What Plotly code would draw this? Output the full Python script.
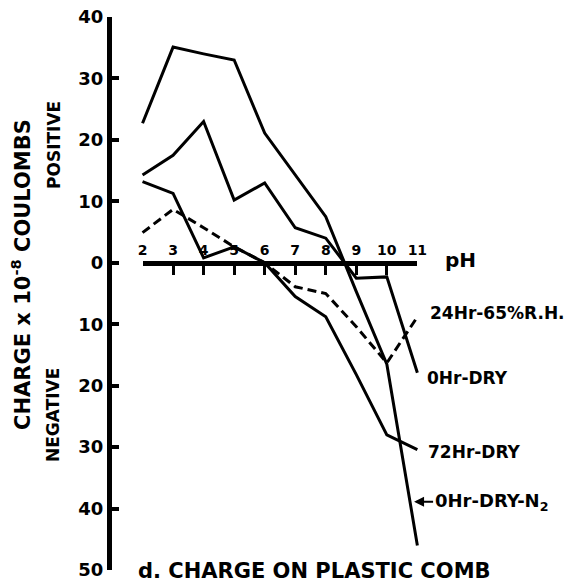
import plotly.graph_objects as go

# ---------------- data ----------------
ph = [2, 3, 4, 5, 6, 7, 8, 9, 10, 11]
hr0_dry_n2 = [22.7, 35.1, 34.0, 33.0, 21.1, 14.3, 7.5, -4.7, -16.5, -46.0]
hr0_dry = [14.3, 17.5, 23.0, 10.2, 13.0, 5.7, 4.0, -2.5, -2.3, -17.9]
hr72_dry = [13.2, 11.3, 0.8, 2.6, 0.0, -5.5, -8.8, -18.2, -28.0, -30.4]
hr24_rh65 = [4.9, 8.7, 5.7, 2.6, 0.0, -3.9, -5.0, -10.4, -16.3, -8.8]

y_tickvals = [40, 30, 20, 10, 0, -10, -20, -30, -40, -50]
y_ticktext = ["40", "30", "20", "10", "0", "10", "20", "30", "40", "50"]
x_tickvals = [2, 3, 4, 5, 6, 7, 8, 9, 10, 11]
x_ticktext = ["2", "3", "4", "5", "6", "7", "8", "9", "10", "11"]

# ---------------- layout geometry (screen pixels) ----------------
W_FIG, H_FIG = 576, 582
OFF = 8  # page body margin
L_S, R_S, T_S, B_S = 112, 567, 17, 570
XR = [1, 15.9]
YR = [-50, 40]


def px_x(sx):
    return (sx - L_S) / (R_S - L_S)


def px_y(sy):
    return (B_S - sy) / (B_S - T_S)


FONT = "DejaVu Sans"
BLACK = "#000000"

fig = go.Figure()

line_style = dict(color=BLACK, width=3)
for name, ys in [("0Hr-DRY-N2", hr0_dry_n2), ("0Hr-DRY", hr0_dry), ("72Hr-DRY", hr72_dry)]:
    fig.add_trace(go.Scatter(x=ph, y=ys, mode="lines", name=name, line=line_style,
                             showlegend=False, hoverinfo="skip"))
fig.add_trace(go.Scatter(x=ph, y=hr24_rh65, mode="lines", name="24Hr-65%R.H.",
                         line=dict(color=BLACK, width=3, dash="9px,5px"),
                         showlegend=False, hoverinfo="skip"))

# carrier trace for the pH axis
fig.add_trace(go.Scatter(x=[2, 11], y=[0, 0], xaxis="x2", yaxis="y", mode="lines",
                         line=dict(width=1, color=BLACK), opacity=0,
                         showlegend=False, hoverinfo="skip"))

d2 = (2 - XR[0]) / (XR[1] - XR[0])
d11 = (11 - XR[0]) / (XR[1] - XR[0])
zero_pos = (0 - YR[0]) / (YR[1] - YR[0])

fig.update_layout(
    template="none",
    width=W_FIG, height=H_FIG,
    margin=dict(l=L_S - OFF, r=W_FIG - (R_S - OFF), t=T_S - OFF, b=H_FIG - (B_S - OFF),
                autoexpand=False),
    plot_bgcolor="rgba(0,0,0,0)", paper_bgcolor="white",
    xaxis=dict(range=XR, visible=False, showgrid=False, zeroline=False, automargin=False),
    xaxis2=dict(range=[2, 11], domain=[d2, d11], anchor="free", position=zero_pos,
                side="top", showline=True, linewidth=5, linecolor=BLACK,
                ticks="inside", ticklen=9, tickwidth=3, tickcolor=BLACK,
                tickvals=x_tickvals, ticktext=x_ticktext, ticklabeloverflow="allow",
                tickfont=dict(family=FONT, size=14, color=BLACK, weight="bold"),
                showgrid=False, zeroline=False, automargin=False),
    yaxis=dict(range=YR, showline=True, linewidth=5, linecolor=BLACK,
               ticks="inside", ticklen=7, tickwidth=4, tickcolor=BLACK,
               tickvals=y_tickvals, ticktext=y_ticktext, ticklabeloverflow="allow",
               tickfont=dict(family=FONT, size=18, color=BLACK, weight="bold"),
               showgrid=False, zeroline=False, automargin=False),
)

lab_font = dict(family=FONT, size=17, color=BLACK, weight="bold")

# series labels (data coordinates)
fig.add_annotation(x=11.35, y=-8.1, xref="x", yref="y", text="24Hr-65%R.H.",
                   showarrow=False, xanchor="left", yanchor="middle", font=lab_font)
fig.add_annotation(x=11.25, y=-18.7, xref="x", yref="y", text="0Hr-DRY",
                   showarrow=False, xanchor="left", yanchor="middle", font=lab_font)
fig.add_annotation(x=11.28, y=-30.8, xref="x", yref="y", text="72Hr-DRY",
                   showarrow=False, xanchor="left", yanchor="middle", font=lab_font)
fig.add_annotation(x=10.86, y=-38.9, xref="x", yref="y", text="0Hr-DRY-N<sub>2</sub>",
                   showarrow=True, arrowhead=2, arrowsize=1, arrowwidth=2, arrowcolor=BLACK,
                   ax=78, ay=0, standoff=1, font=dict(family=FONT, size=18, color=BLACK,
                                                     weight="bold"))

# pH label
fig.add_annotation(x=px_x(460), y=px_y(260), xref="paper", yref="paper", text="pH",
                   showarrow=False, xanchor="center", yanchor="middle",
                   font=dict(family=FONT, size=20, color=BLACK, weight="bold"))

# axis title and side labels
fig.add_annotation(x=px_x(21), y=px_y(275), xref="paper", yref="paper",
                   text="CHARGE x 10<sup>-8</sup> COULOMBS", textangle=-90, showarrow=False,
                   xanchor="center", yanchor="middle",
                   font=dict(family=FONT, size=21, color=BLACK, weight="bold"))
fig.add_annotation(x=px_x(54), y=px_y(145), xref="paper", yref="paper",
                   text="POSITIVE", textangle=-90, showarrow=False,
                   xanchor="center", yanchor="middle",
                   font=dict(family=FONT, size=17, color=BLACK, weight="bold"))
fig.add_annotation(x=px_x(53), y=px_y(415), xref="paper", yref="paper",
                   text="NEGATIVE", textangle=-90, showarrow=False,
                   xanchor="center", yanchor="middle",
                   font=dict(family=FONT, size=17, color=BLACK, weight="bold"))

# panel title
fig.add_annotation(x=px_x(136), y=px_y(571), xref="paper", yref="paper",
                   text="d. CHARGE ON PLASTIC COMB", showarrow=False,
                   xanchor="left", yanchor="middle",
                   font=dict(family=FONT, size=21, color=BLACK, weight="bold"))

fig.write_html("out.html")
